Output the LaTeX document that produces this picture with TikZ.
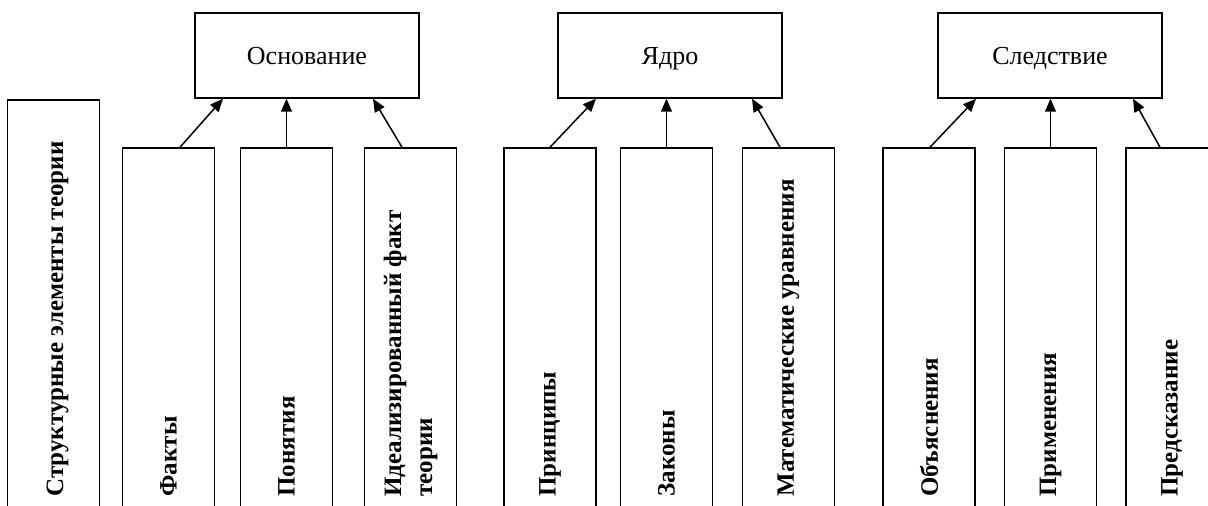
\documentclass[tikz,border=0pt]{standalone}
\usepackage{fontspec}
\setmainfont{Liberation Serif}
\usetikzlibrary{arrows.meta,positioning}

\tikzset{
  headbox/.style={draw, line width=1.5pt, minimum width=224pt, minimum height=85pt,
    inner sep=0pt, text depth=0pt, font=\fontsize{26}{30}\selectfont},
  elembox/.style={draw, line width=1.5pt, minimum width=92pt, minimum height=382pt, inner sep=0pt},
  vlabel/.style={rotate=90, anchor=west, inner sep=0pt, align=left,
    font=\fontsize{25}{31}\selectfont\bfseries},
  uparrow/.style={-{Triangle[length=13pt,width=11pt]}, line width=1.5pt},
}

\begin{document}
\begin{tikzpicture}[x=1pt,y=1pt]
\useasboundingbox (0,0) rectangle (1208,506);
\clip (0,0) rectangle (1208,506);

% the three head boxes
\node[headbox] (osnovanie) at (307,450.5) {Основание};
\node[headbox] (yadro) at (670,450.5) {Ядро};
\node[headbox] (sledstvie) at (1050,450.5) {Следствие};

% left column
\node[elembox, minimum height=430pt] (struktura) at (53.5,191) {};
\node[vlabel] at ([xshift=4pt,yshift=34pt]struktura.south) {Структурные элементы теории};

% element boxes
\foreach \name/\x/\txt in {fakty/168.5/Факты, ponyatiya/286.5/Понятия,
    ideal/410.5/{Идеализированный факт\\теории},
    printsipy/550/Принципы, zakony/666.5/Законы, matem/788.5/Математические уравнения,
    obyasn/929/Объяснения, primen/1050.5/Применения, predsk/1172/Предсказание}
{
  \node[elembox] (\name) at (\x,167) {};
  \node[vlabel] at ([yshift=34pt]\name.south) {\txt};
}

% arrows
\draw[uparrow] ([xshift=11.5pt]fakty.north) -- ([xshift=-84pt]osnovanie.south);
\draw[uparrow] (ponyatiya.north) -- (ponyatiya.north |- osnovanie.south);
\draw[uparrow] ([xshift=-8.5pt]ideal.north) -- ([xshift=66pt]osnovanie.south);

\draw[uparrow] (printsipy.north) -- ([xshift=-74pt]yadro.south);
\draw[uparrow] (zakony.north) -- (zakony.north |- yadro.south);
\draw[uparrow] ([xshift=-8.5pt]matem.north) -- ([xshift=82pt]yadro.south);

\draw[uparrow] ([xshift=1pt]obyasn.north) -- ([xshift=-74pt]sledstvie.south);
\draw[uparrow] (primen.north) -- (primen.north |- sledstvie.south);
\draw[uparrow] ([xshift=-12pt]predsk.north) -- ([xshift=83pt]sledstvie.south);
\end{tikzpicture}
\end{document}
